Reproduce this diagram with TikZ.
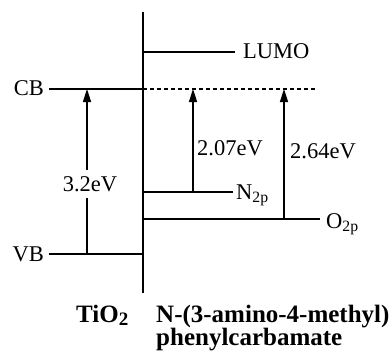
\documentclass[tikz,border=0pt]{standalone}
\usepackage{fontspec}
\setmainfont{Liberation Serif}
\usetikzlibrary{arrows.meta}
\begin{document}
\begin{tikzpicture}[x=1pt,y=-1pt,
  lvl/.style={line width=1.8pt},
  arr/.style={line width=1.6pt,-{Triangle[length=13pt,width=8pt]}},
  lab/.style={inner sep=0pt,font=\fontsize{22.5}{26}\selectfont},
  blab/.style={inner sep=0pt,font=\fontsize{25}{25}\selectfont\bfseries}]
\useasboundingbox (0,0) rectangle (390,351);
% axis
\coordinate (axT) at (143,12);
\coordinate (axB) at (143,293);
\draw[lvl] (axT) -- (axB);
% level end points
\coordinate (cbL) at (49,89);
\coordinate (cbM) at (143,89);
\coordinate (cbR) at (316,89);
\coordinate (vbL) at (49,254);
\coordinate (vbR) at (143,254);
\coordinate (luL) at (143,52);
\coordinate (luR) at (235,52);
\coordinate (nL) at (143,192);
\coordinate (nR) at (233,192);
\coordinate (oL) at (143,219);
\coordinate (oR) at (320,219);
\draw[lvl] (cbL) -- (cbM);
\draw[lvl,dash pattern=on 4pt off 3pt] (cbM) -- (cbR);
\draw[lvl] (vbL) -- (vbR);
\draw[lvl] (luL) -- (luR);
\draw[lvl] (nL) -- (nR);
\draw[lvl] (oL) -- (oR);
% labels
\node[lab,anchor=east] (cb) at (44,88) {CB};
\node[lab,anchor=east] (vb) at (44,254) {VB};
\node[lab,anchor=west] (lumo) at (243,51) {LUMO};
\node[lab,anchor=base west] (n2p) at (236,199) {N\textsubscript{2p}};
\node[lab,anchor=base west] (o2p) at (326,228) {O\textsubscript{2p}};
% arrows
\coordinate (a1s) at (87,254);
\coordinate (a1e) at (87,89);
\coordinate (a2s) at (193,192);
\coordinate (a2e) at (193,89);
\coordinate (a3s) at (284,219);
\coordinate (a3e) at (284,89);
\draw[arr] (a1s) -- (a1e);
\node[lab,fill=white,inner xsep=1pt,inner ysep=6pt] (e1) at (90,184) {3.2eV};
\draw[arr] (a2s) -- (a2e);
\draw[arr] (a3s) -- (a3e);
\node[lab,anchor=base west] (e2) at (197,155) {2.07eV};
\node[lab,anchor=base west] (e3) at (290,158) {2.64eV};
% bottom labels
\node[blab,anchor=base west] (tio2) at (76,322) {TiO\raisebox{-3pt}{\fontsize{19}{19}\selectfont 2}};
\node[blab,anchor=base west] (mol1) at (156,322) {N-(3-amino-4-methyl)};
\node[blab,anchor=base west] (mol2) at (156,345) {phenylcarbamate};
\end{tikzpicture}
\end{document}
